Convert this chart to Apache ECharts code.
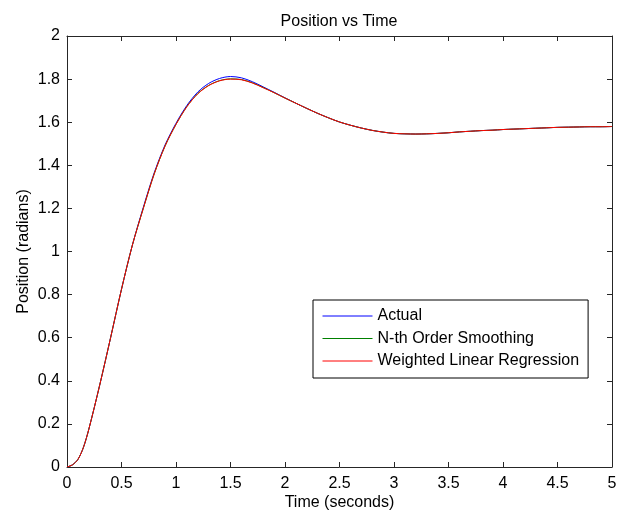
<!DOCTYPE html>
<html>
<head>
<meta charset="utf-8">
<script src="https://cdn.jsdelivr.net/npm/echarts@6/dist/echarts.min.js"></script>
<style>html,body{margin:0;padding:0;background:#fff}#c{width:620px;height:512px}</style>
</head>
<body>
<div id="c"></div>
<script>
var chartTitle = 'Position vs Time';
var xName = 'Time (seconds)';
var yName = 'Position (radians)';
var seriesNames = ['Actual', 'N-th Order Smoothing', 'Weighted Linear Regression'];
var seriesColors = ['#0000ff', '#008000', '#ff0000'];
var xTickLabels = ['0','0.5','1','1.5','2','2.5','3','3.5','4','4.5','5'];
var yTickLabels = ['0','0.2','0.4','0.6','0.8','1','1.2','1.4','1.6','1.8','2'];

var times = [0,0.05,0.1,0.15,0.2,0.3,0.4,0.5,0.6,0.7,0.8,0.9,1.0,1.1,1.2,1.3,1.4,1.5,1.6,1.7,1.8,1.9,2.0,
  2.1,2.2,2.3,2.4,2.5,2.6,2.7,2.8,2.9,3.0,3.1,3.2,3.3,3.4,3.5,3.6,3.7,3.8,3.9,4.0,
  4.1,4.2,4.3,4.4,4.5,4.6,4.7,4.8,4.9,5.0];

var actual = [0,0.01,0.035,0.09,0.175,0.38,0.60,0.825,1.03,1.205,1.365,1.495,1.595,1.678,1.740,1.780,1.803,1.812,1.806,1.788,1.764,1.739,1.713,
  1.688,1.664,1.641,1.620,1.601,1.586,1.573,1.562,1.554,1.548,1.546,1.545,1.546,1.548,1.551,1.555,1.558,1.561,1.563,1.566,
  1.568,1.570,1.572,1.574,1.576,1.577,1.578,1.579,1.579,1.580];

var nthOrder = [0,0.01,0.035,0.09,0.175,0.38,0.60,0.825,1.03,1.20,1.36,1.49,1.59,1.673,1.733,1.771,1.793,1.801,1.798,1.783,1.761,1.737,1.712,
  1.688,1.664,1.641,1.620,1.601,1.586,1.573,1.562,1.554,1.548,1.546,1.545,1.546,1.548,1.551,1.555,1.558,1.561,1.563,1.566,
  1.568,1.570,1.572,1.574,1.576,1.577,1.578,1.579,1.579,1.580];

var weightedLR = [0,0.01,0.035,0.09,0.175,0.38,0.60,0.825,1.03,1.20,1.36,1.49,1.59,1.672,1.732,1.770,1.792,1.800,1.797,1.782,1.760,1.737,1.712,
  1.688,1.664,1.641,1.620,1.601,1.586,1.573,1.562,1.554,1.548,1.546,1.545,1.546,1.548,1.551,1.555,1.558,1.561,1.563,1.566,
  1.568,1.570,1.572,1.574,1.576,1.577,1.578,1.579,1.579,1.580];

var seriesValues = [actual, nthOrder, weightedLR];

function pairs(vals) { return times.map(function (t, i) { return [t, vals[i]]; }); }

var font = 'Liberation Sans, Arial, sans-serif';
var axisColor = '#262626';

function xLabel(v) { var i = Math.round(v / 0.5); return xTickLabels[i] !== undefined ? xTickLabels[i] : ''; }
function yLabel(v) { var i = Math.round(v / 0.2); return yTickLabels[i] !== undefined ? yTickLabels[i] : ''; }

var chart = echarts.init(document.getElementById('c'), null, {renderer: 'canvas'});
var baseX = {type: 'value', min: 0, max: 5, interval: 0.5, splitLine: {show: false},
  axisLine: {show: true, onZero: false, lineStyle: {color: axisColor, width: 1}},
  axisTick: {show: true, inside: true, length: 5, lineStyle: {color: axisColor}}};
var baseY = {type: 'value', min: 0, max: 2, interval: 0.2, splitLine: {show: false},
  axisLine: {show: true, onZero: false, lineStyle: {color: axisColor, width: 1}},
  axisTick: {show: true, inside: true, length: 5, lineStyle: {color: axisColor}}};

chart.setOption({
  animation: false,
  backgroundColor: '#ffffff',
  title: {text: chartTitle, left: 334, textAlign: 'center', top: 9,
    textStyle: {fontFamily: font, fontSize: 16, fontWeight: 'normal', color: '#000'}},
  grid: {left: 67, right: 8, top: 36, bottom: 45, containLabel: false, outerBoundsMode: 'none'},
  legend: {orient: 'vertical', left: 313, top: 300, width: 277,
    padding: [8, 9, 9, 9], itemGap: 6.5, itemWidth: 50, itemHeight: 16,
    itemStyle: {opacity: 0, borderWidth: 0},
    lineStyle: {width: 1, opacity: 1},
    backgroundColor: '#ffffff', borderColor: '#000', borderWidth: 1, borderRadius: 0,
    textStyle: {fontFamily: font, fontSize: 16, color: '#000'},
    data: seriesNames},
  xAxis: [
    Object.assign({}, baseX, {position: 'bottom', name: xName, nameLocation: 'middle', nameGap: 28,
      nameMoveOverlap: false,
      nameTextStyle: {fontFamily: font, fontSize: 16, color: '#000'},
      axisLabel: {show: true, margin: 9, fontFamily: font, fontSize: 16, color: '#000', formatter: xLabel}}),
    Object.assign({}, baseX, {position: 'top', axisLabel: {show: false}})
  ],
  yAxis: [
    Object.assign({}, baseY, {position: 'left', name: yName, nameLocation: 'middle', nameGap: 35,
      nameMoveOverlap: false,
      nameTextStyle: {fontFamily: font, fontSize: 16, color: '#000'},
      axisLabel: {show: true, margin: 7, fontFamily: font, fontSize: 16, color: '#000', formatter: yLabel}}),
    Object.assign({}, baseY, {position: 'right', axisLabel: {show: false}})
  ],
  series: seriesNames.map(function (n, k) {
    return {name: n, type: 'line', xAxisIndex: 0, yAxisIndex: 0, data: pairs(seriesValues[k]),
      smooth: 0.3, symbol: 'none', showSymbol: false,
      lineStyle: {color: seriesColors[k], width: 1}, itemStyle: {color: seriesColors[k]}, z: 2 + k};
  })
});
</script>
</body>
</html>
